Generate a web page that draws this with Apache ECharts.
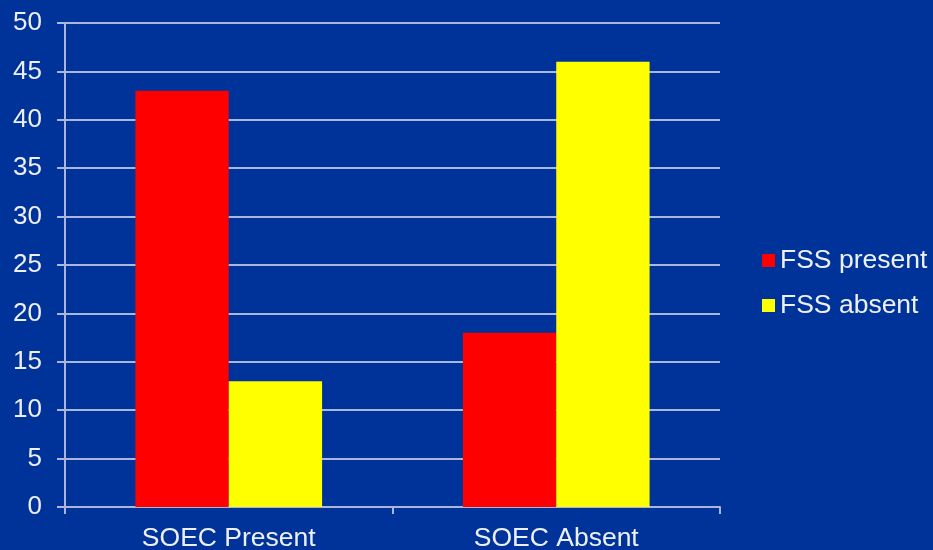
<!DOCTYPE html>
<html>
<head>
<meta charset="utf-8">
<script src="https://cdn.jsdelivr.net/npm/echarts@6/dist/echarts.min.js"></script>
<style>
  html, body { margin: 0; padding: 0; background: #003399; }
  #chart { width: 933px; height: 550px; }
</style>
</head>
<body>
<div id="chart"></div>
<script>
const categories = ['SOEC Present', 'SOEC Absent'];
const fssPresent = [43, 18];
const fssAbsent = [13, 46];
const yTicks = { min: 0, max: 50, interval: 5 };

const lineColor = '#aab6dc';
const textColor = '#eef0f8';
const font = '"Liberation Sans", Arial, sans-serif';

const chart = echarts.init(document.getElementById('chart'));
chart.setOption({
  backgroundColor: '#003399',
  animation: false,
  grid: { left: 65, right: 213, top: 23, bottom: 43, containLabel: false, outerBoundsMode: 'none' },
  legend: {
    orient: 'vertical',
    left: 757,
    top: 242,
    itemWidth: 13,
    itemHeight: 13,
    itemGap: 18,
    icon: 'rect',
    textStyle: { color: textColor, fontSize: 26.5, fontFamily: font },
    data: ['FSS present', 'FSS absent']
  },
  xAxis: {
    type: 'category',
    data: categories,
    axisLine: { lineStyle: { color: lineColor, width: 2 } },
    axisTick: { show: true, length: 7, lineStyle: { color: lineColor, width: 2 } },
    axisLabel: { color: textColor, fontSize: 26.5, fontFamily: font, margin: 18 }
  },
  yAxis: {
    type: 'value',
    min: yTicks.min,
    max: yTicks.max,
    interval: yTicks.interval,
    axisLine: { show: true, lineStyle: { color: lineColor, width: 2 } },
    axisTick: { show: true, length: 8, lineStyle: { color: lineColor, width: 2 } },
    axisLabel: { color: textColor, fontSize: 26, fontFamily: font, margin: 23 },
    splitLine: { lineStyle: { color: lineColor, width: 2 } }
  },
  series: [
    {
      name: 'FSS present',
      type: 'bar',
      data: fssPresent,
      itemStyle: { color: '#ff0000' },
      barGap: '0%',
      barCategoryGap: '43%'
    },
    {
      name: 'FSS absent',
      type: 'bar',
      data: fssAbsent,
      itemStyle: { color: '#ffff00' },
      barGap: '0%',
      barCategoryGap: '43%'
    }
  ]
});
</script>
</body>
</html>
